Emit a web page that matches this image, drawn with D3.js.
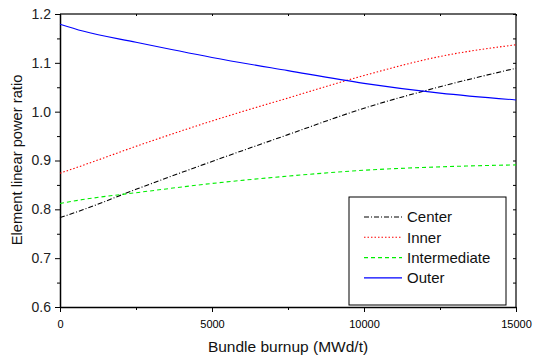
<!DOCTYPE html>
<html>
<head>
<meta charset="utf-8">
<script src="https://cdn.jsdelivr.net/npm/d3@7"></script>
<style>
  body { margin: 0; background: #fff; }
  svg { display: block; font-family: Arial, "Liberation Sans", sans-serif; }
</style>
</head>
<body>
<div id="chart"></div>
<script>
const burnup = [0, 750, 2500, 5000, 7500, 10000, 12500, 15000];
const center = [0.783, 0.799, 0.841, 0.898, 0.953, 1.007, 1.051, 1.089];
const inner = [0.874, 0.890, 0.929, 0.981, 1.028, 1.074, 1.113, 1.137];
const intermediate = [0.812, 0.820, 0.834, 0.853, 0.868, 0.880, 0.887, 0.891];
const outer = [1.179, 1.165, 1.142, 1.111, 1.084, 1.058, 1.038, 1.024];

const seriesNames = ['Center', 'Inner', 'Intermediate', 'Outer'];
const seriesValues = [center, inner, intermediate, outer];
const seriesColors = ['#000000', '#ff0000', '#00ee00', '#0000ff'];
const seriesDash = ['5,2,1,2', '1.5,2', '4,3', null];

const xTicks = [0, 5000, 10000, 15000];
const yTicks = [0.6, 0.7, 0.8, 0.9, 1.0, 1.1, 1.2];

const WIDTH = 533;
const HEIGHT = 360;
const margin = { top: 14, right: 17, bottom: 53, left: 60 };

const svg = d3
  .select('#chart')
  .append('svg')
  .attr('width', WIDTH)
  .attr('height', HEIGHT);

const x = d3
  .scaleLinear()
  .domain([0, 15000])
  .range([margin.left, WIDTH - margin.right]);

const y = d3
  .scaleLinear()
  .domain([0.6, 1.2])
  .range([HEIGHT - margin.bottom, margin.top]);

const minorX = d3.range(0, 15001, 2500);
const minorY = d3.range(0, 13).map((i) => 0.6 + i * 0.05);

// frame: top and right in grey
svg
  .append('line')
  .attr('x1', x(0)).attr('x2', x(15000))
  .attr('y1', y(1.2)).attr('y2', y(1.2))
  .attr('stroke', '#666').attr('stroke-width', 2);

svg
  .append('line')
  .attr('x1', x(15000)).attr('x2', x(15000))
  .attr('y1', y(1.2)).attr('y2', y(0.6))
  .attr('stroke', '#666').attr('stroke-width', 2);

// top ticks (inward)
svg
  .append('g')
  .attr('transform', `translate(0, ${y(1.2)})`)
  .call(d3.axisTop(x).tickValues(minorX).tickSize(-2).tickFormat(''))
  .call((g) => g.select('.domain').remove())
  .call((g) => g.selectAll('line').attr('stroke', '#000'));

// right ticks (inward)
svg
  .append('g')
  .attr('transform', `translate(${x(15000)}, 0)`)
  .call(d3.axisRight(y).tickValues(minorY).tickSize(-3).tickFormat(''))
  .call((g) => g.select('.domain').remove());

// bottom axis
const xAxis = svg
  .append('g')
  .attr('transform', `translate(0, ${y(0.6)})`);

xAxis
  .call(
    d3.axisBottom(x)
      .tickValues(xTicks)
      .tickSize(5)
      .tickSizeOuter(0)
      .tickPadding(8)
      .tickFormat(d3.format('d'))
  )
  .call((g) => g.select('.domain').attr('stroke-width', 1.5))
  .call((g) => g.selectAll('text').attr('font-size', 11).attr('fill', '#000'));

xAxis
  .append('g')
  .call(d3.axisBottom(x).tickValues(minorX.filter((v) => v % 5000 !== 0)).tickSize(3).tickFormat(''))
  .call((g) => g.select('.domain').remove());

// left axis
const yAxis = svg
  .append('g')
  .attr('transform', `translate(${x(0)}, 0)`);

yAxis
  .call(
    d3.axisLeft(y)
      .tickValues(yTicks)
      .tickSize(5)
      .tickSizeOuter(0)
      .tickPadding(4)
      .tickFormat(d3.format('.1f'))
  )
  .call((g) => g.select('.domain').attr('stroke-width', 1.5))
  .call((g) => g.selectAll('text').attr('font-size', 14).attr('fill', '#222'));

yAxis
  .append('g')
  .call(d3.axisLeft(y).tickValues(minorY.filter((_, i) => i % 2 === 1)).tickSize(3).tickFormat(''))
  .call((g) => g.select('.domain').remove());

// axis titles
svg
  .append('text')
  .attr('x', 288)
  .attr('y', 352)
  .attr('text-anchor', 'middle')
  .attr('font-size', 15.5)
  .attr('fill', '#111')
  .text('Bundle burnup (MWd/t)');

svg
  .append('text')
  .attr('transform', 'translate(22, 160) rotate(-90)')
  .attr('text-anchor', 'middle')
  .attr('font-size', 14.7)
  .attr('fill', '#111')
  .text('Element linear power ratio');

// lines
const line = d3
  .line()
  .x((d) => x(d[0]))
  .y((d) => y(d[1]))
  .curve(d3.curveMonotoneX);

svg
  .append('g')
  .selectAll('path')
  .data(seriesValues)
  .join('path')
  .attr('d', (vals) => line(burnup.map((b, i) => [b, vals[i]])))
  .attr('fill', 'none')
  .attr('stroke', (_, i) => seriesColors[i])
  .attr('stroke-width', 1.1)
  .attr('stroke-dasharray', (_, i) => seriesDash[i]);

// legend
const legend = svg.append('g').attr('transform', 'translate(349, 197)');

legend
  .append('rect')
  .attr('width', 157)
  .attr('height', 108)
  .attr('fill', '#fff')
  .attr('stroke', '#000')
  .attr('stroke-width', 1);

const items = legend
  .selectAll('g')
  .data(seriesNames)
  .join('g')
  .attr('transform', (_, i) => `translate(0, ${20 + i * 20.3})`);

items
  .append('line')
  .attr('x1', 15)
  .attr('x2', 53)
  .attr('stroke', (_, i) => seriesColors[i])
  .attr('stroke-width', 1.1)
  .attr('stroke-dasharray', (_, i) => seriesDash[i]);

items
  .append('text')
  .attr('x', 58)
  .attr('dy', '0.35em')
  .attr('font-size', 15)
  .attr('fill', '#111')
  .text((d) => d);
</script>
</body>
</html>
